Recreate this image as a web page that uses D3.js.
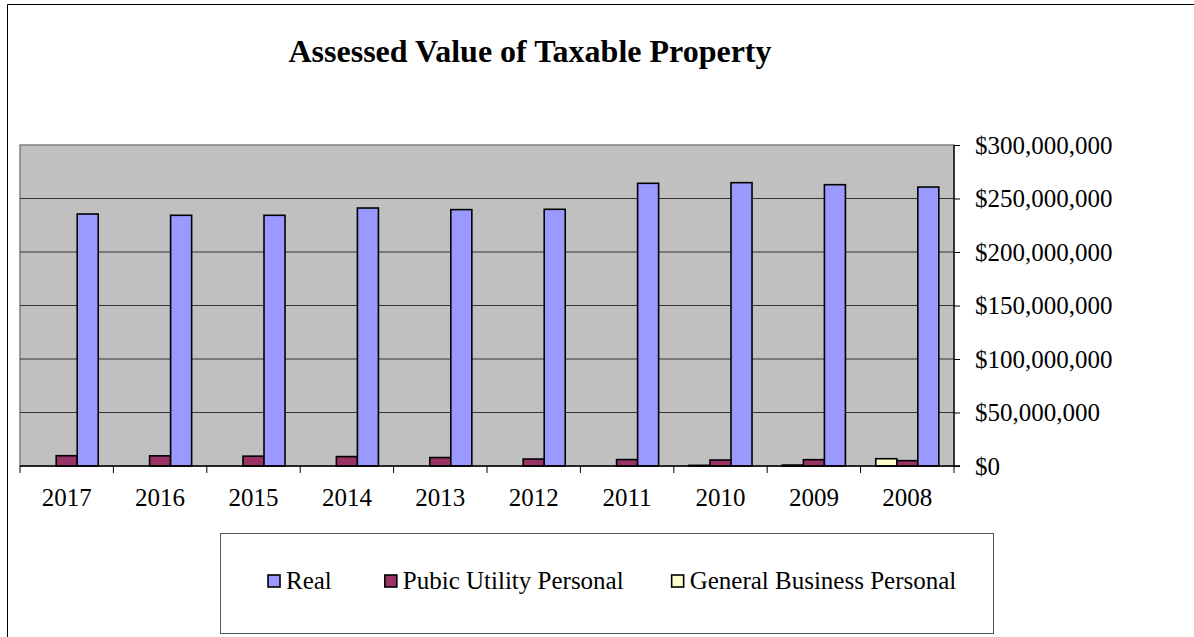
<!DOCTYPE html>
<html>
<head>
<meta charset="utf-8">
<script src="https://cdn.jsdelivr.net/npm/d3@7"></script>
<style>
  html, body { margin: 0; padding: 0; background: #fff; }
  svg { display: block; font-family: "Liberation Serif", "Times New Roman", serif; }
</style>
</head>
<body>
<div id="chart"></div>
<script>
(function() {
    'use strict';

    var years = ["2017", "2016", "2015", "2014", "2013", "2012", "2011", "2010", "2009", "2008"];
    var seriesNames = ["General Business Personal", "Pubic Utility Personal", "Real"];
    var legendOrder = ["Real", "Pubic Utility Personal", "General Business Personal"];
    var realValues = [235500000, 234300000, 234300000, 241100000, 239600000, 239900000, 264200000, 264800000, 262900000, 260700000];
    var utilityValues = [9600000, 9500000, 9200000, 8800000, 7900000, 6500000, 6000000, 5600000, 5900000, 5000000];
    var businessValues = [0, 0, 0, 0, 0, 0, 0, 600000, 900000, 6800000];
    var yTicks = [0, 50000000, 100000000, 150000000, 200000000, 250000000, 300000000];

    var colors = {
        "Real": "#9999ff",
        "Pubic Utility Personal": "#993366",
        "General Business Personal": "#ffffcc"
    };
    var valuesBySeries = {
        "Real": realValues,
        "Pubic Utility Personal": utilityValues,
        "General Business Personal": businessValues
    };

    var width = 1194, height = 637;
    var plot = {left: 20, right: 954, top: 145, bottom: 466};

    var svg = d3.select("#chart").append("svg")
        .attr("width", width)
        .attr("height", height);

    // outer chart frame (top and left edges only visible)
    svg.append("path")
        .attr("d", "M7.5,637 V4.5 H1194")
        .attr("fill", "none")
        .attr("stroke", "#000")
        .attr("stroke-width", 1);

    svg.append("text")
        .attr("x", 530)
        .attr("y", 62)
        .attr("text-anchor", "middle")
        .style("font-size", "32px")
        .style("font-weight", "bold")
        .text("Assessed Value of Taxable Property");

    var pad = 0.325;
    var x0 = d3.scaleBand()
        .domain(years)
        .range([plot.left, plot.right])
        .paddingInner(pad)
        .paddingOuter(pad / 2);

    var x1 = d3.scaleBand()
        .domain(seriesNames)
        .range([0, x0.bandwidth()]);

    var y = d3.scaleLinear()
        .domain([0, 300000000])
        .range([plot.bottom, plot.top]);

    // plot background
    svg.append("rect")
        .attr("x", plot.left)
        .attr("y", plot.top)
        .attr("width", plot.right - plot.left)
        .attr("height", plot.bottom - plot.top)
        .attr("fill", "#c0c0c0")
        .attr("stroke", "#808080")
        .attr("stroke-width", 1.5);

    // gridlines
    svg.append("g")
        .selectAll("line")
        .data(yTicks.slice(1, -1))
        .enter().append("line")
        .attr("x1", plot.left)
        .attr("x2", plot.right)
        .attr("y1", d => y(d))
        .attr("y2", d => y(d))
        .attr("stroke", "#333")
        .attr("stroke-width", 1);

    // bars
    var groups = svg.selectAll(".year")
        .data(years)
        .enter().append("g")
        .attr("class", "year")
        .attr("transform", d => "translate(" + x0(d) + ",0)");

    groups.selectAll("rect")
        .data((d, i) => seriesNames.map(s => ({series: s, value: valuesBySeries[s][i]})))
        .enter().filter(d => d.value > 0).append("rect")
        .attr("x", d => x1(d.series))
        .attr("y", d => y(d.value))
        .attr("width", x1.bandwidth())
        .attr("height", d => y(0) - y(d.value))
        .attr("fill", d => colors[d.series])
        .attr("stroke", "#000")
        .attr("stroke-width", 1.6);

    // x axis
    var step = x0.step();
    var xg = svg.append("g").attr("class", "x-axis");
    xg.append("line")
        .attr("x1", plot.left)
        .attr("x2", plot.right + 6)
        .attr("y1", y(0))
        .attr("y2", y(0))
        .attr("stroke", "#000")
        .attr("stroke-width", 1.3);
    xg.selectAll(".tick")
        .data(years.concat(["end"]))
        .enter().append("line")
        .attr("x1", (d, i) => plot.left + i * step)
        .attr("x2", (d, i) => plot.left + i * step)
        .attr("y1", y(0))
        .attr("y2", y(0) + 7)
        .attr("stroke", "#000")
        .attr("stroke-width", 1);
    xg.selectAll("text")
        .data(years)
        .enter().append("text")
        .attr("x", d => x0(d) + x0.bandwidth() / 2)
        .attr("y", 506)
        .attr("text-anchor", "middle")
        .style("font-size", "25px")
        .text(d => d);

    // y axis on the right
    var yAxis = d3.axisRight(y)
        .tickValues(yTicks)
        .tickSize(6)
        .tickPadding(15)
        .tickFormat(d => "$" + d3.format(",")(d));

    var yg = svg.append("g")
        .attr("class", "y-axis")
        .attr("transform", "translate(" + plot.right + ",0)")
        .call(yAxis);
    yg.select(".domain").attr("stroke", "#000").attr("stroke-width", 1.3)
        .attr("d", "M0," + plot.top + "V" + plot.bottom);
    yg.selectAll(".tick line").attr("stroke", "#000");
    yg.selectAll(".tick text")
        .style("font-size", "25px")
        .style("font-family", "'Liberation Serif', 'Times New Roman', serif")
        .attr("fill", "#000");

    // legend
    var box = {x: 220, y: 533, w: 773, h: 100};
    svg.append("rect")
        .attr("x", box.x + 0.5)
        .attr("y", box.y + 0.5)
        .attr("width", box.w)
        .attr("height", box.h)
        .attr("fill", "#fff")
        .attr("stroke", "#555")
        .attr("stroke-width", 1);

    var legend = svg.append("g").attr("class", "legend");
    var items = legend.selectAll("g")
        .data(legendOrder)
        .enter().append("g");

    items.append("rect")
        .attr("width", 12)
        .attr("height", 12)
        .attr("y", -6)
        .attr("fill", d => colors[d])
        .attr("stroke", "#000")
        .attr("stroke-width", 1.6);

    items.append("text")
        .attr("x", 18)
        .attr("y", 8)
        .style("font-size", "25px")
        .text(d => d);

    var gaps = [0, 53, 48];
    var xPos = [];
    var cursor = box.x + 48;
    items.each(function(d, i) {
        cursor += gaps[i];
        xPos.push(cursor);
        cursor += 18 + this.querySelector("text").getComputedTextLength();
    });
    items.attr("transform", (d, i) => "translate(" + xPos[i] + ",581)");
})();
</script>
</body>
</html>
